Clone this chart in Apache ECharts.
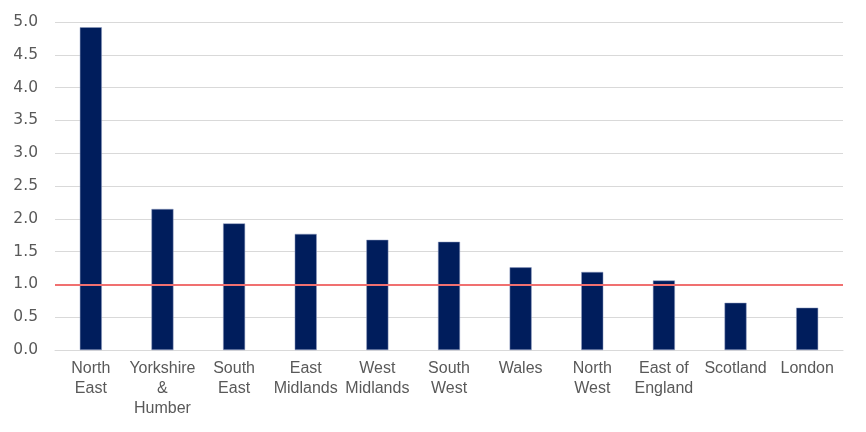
<!DOCTYPE html>
<html><head><meta charset="utf-8">
<script src="https://cdn.jsdelivr.net/npm/echarts@6/dist/echarts.min.js"></script>
<style>html,body{margin:0;padding:0;background:#fff}#c{width:866px;height:432px}</style>
</head><body><div id="c"></div>
<script>
const categories = ["North\nEast","Yorkshire\n&\nHumber","South\nEast","East\nMidlands","West\nMidlands","South\nWest","Wales","North\nWest","East of\nEngland","Scotland","London"];
const values = [4.92, 2.15, 1.93, 1.77, 1.68, 1.65, 1.26, 1.19, 1.06, 0.72, 0.645];
const referenceValue = 1.0;
const yTicks = {min: 0, max: 5, interval: 0.5};

const chart = echarts.init(document.getElementById('c'), null, {renderer: 'canvas'});
chart.setOption({
  animation: false,
  grid: {left: 55, right: 23, top: 22, bottom: 82},
  xAxis: {
    type: 'category', data: categories,
    axisLine: {lineStyle: {color: '#d9d9d9', width: 1}},
    axisTick: {show: false},
    axisLabel: {color: '#595959', fontSize: 16, fontFamily: '"Liberation Sans", sans-serif', lineHeight: 20, margin: 9, interval: 0}
  },
  yAxis: {
    type: 'value', min: yTicks.min, max: yTicks.max, interval: yTicks.interval,
    axisLine: {show: false}, axisTick: {show: false},
    axisLabel: {color: '#595959', fontSize: 15.5, fontFamily: '"DejaVu Sans", sans-serif', margin: 17, formatter: v => v.toFixed(1)},
    splitLine: {lineStyle: {color: '#d9d9d9', width: 1}}
  },
  series: [{
    type: 'bar', data: values, barWidth: 22,
    itemStyle: {color: '#001d5c', borderColor: '#8f9cc0', borderWidth: 0.5},
    markLine: {
      silent: true, symbol: 'none', label: {show: false},
      lineStyle: {color: '#f07070', width: 2, type: 'solid'},
      data: [{yAxis: referenceValue}]
    }
  }]
});
</script></body></html>
